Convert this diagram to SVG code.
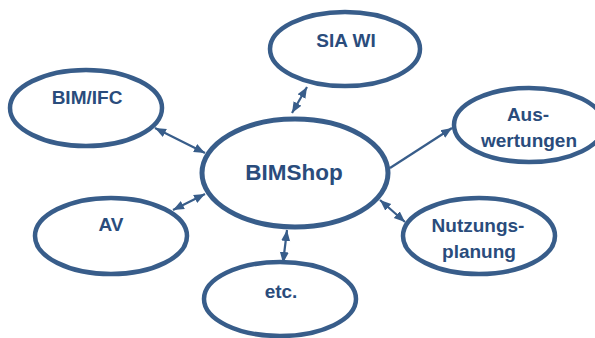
<svg xmlns="http://www.w3.org/2000/svg" width="595" height="338" viewBox="0 0 595 338">
<defs>
<marker id="ah" markerUnits="userSpaceOnUse" markerWidth="12" markerHeight="10" refX="11" refY="5" orient="auto-start-reverse" viewBox="0 0 12 10">
<path d="M0,0.5 L11,5 L0,9.5 Z" fill="#385D8A"/>
</marker>
</defs>
<style>
.n{fill:#ffffff;stroke:#385D8A;stroke-width:4.5}
.c{fill:#ffffff;stroke:#385D8A;stroke-width:5}
.t{font-family:"Liberation Sans",Arial,sans-serif;font-weight:bold;font-size:19px;fill:#2A4C7C;text-anchor:middle}
.big{font-size:22.5px}
.e{stroke:#385D8A;stroke-width:2.2;fill:none}
</style>
<rect width="595" height="338" fill="#ffffff"/>
<g id="connectors">
<line class="e" x1="155" y1="128" x2="205" y2="153" marker-start="url(#ah)" marker-end="url(#ah)"/>
<line class="e" x1="307" y1="87" x2="292" y2="113" marker-start="url(#ah)" marker-end="url(#ah)"/>
<line class="e" x1="390" y1="168" x2="452" y2="128" marker-end="url(#ah)"/>
<line class="e" x1="380" y1="200" x2="405" y2="222" marker-start="url(#ah)" marker-end="url(#ah)"/>
<line class="e" x1="173" y1="210" x2="205" y2="194" marker-start="url(#ah)" marker-end="url(#ah)"/>
<line class="e" x1="287" y1="230" x2="283" y2="263" marker-start="url(#ah)" marker-end="url(#ah)"/>
</g>
<g id="bimshop">
<ellipse class="c" cx="295" cy="173" rx="93" ry="54"/>
<text class="t big" x="294" y="180">BIMShop</text>
</g>
<g id="bimifc">
<ellipse class="n" cx="86" cy="108" rx="76" ry="38"/>
<text class="t" x="87" y="104">BIM/IFC</text>
</g>
<g id="siawi">
<ellipse class="n" cx="345" cy="49" rx="75" ry="37"/>
<text class="t" x="346" y="47">SIA WI</text>
</g>
<g id="auswertungen">
<ellipse class="n" cx="529" cy="125" rx="75" ry="37"/>
<text class="t" x="528" y="121">Aus-</text>
<text class="t" x="529" y="147">wertungen</text>
</g>
<g id="av">
<ellipse class="n" cx="111" cy="236" rx="76" ry="38"/>
<text class="t" x="111" y="231">AV</text>
</g>
<g id="nutzungsplanung">
<ellipse class="n" cx="479" cy="236" rx="76" ry="38"/>
<text class="t" x="478" y="232">Nutzungs-</text>
<text class="t" x="479" y="258">planung</text>
</g>
<g id="etc">
<ellipse class="n" cx="280" cy="299" rx="76" ry="37"/>
<text class="t" x="281" y="298">etc.</text>
</g>
</svg>
